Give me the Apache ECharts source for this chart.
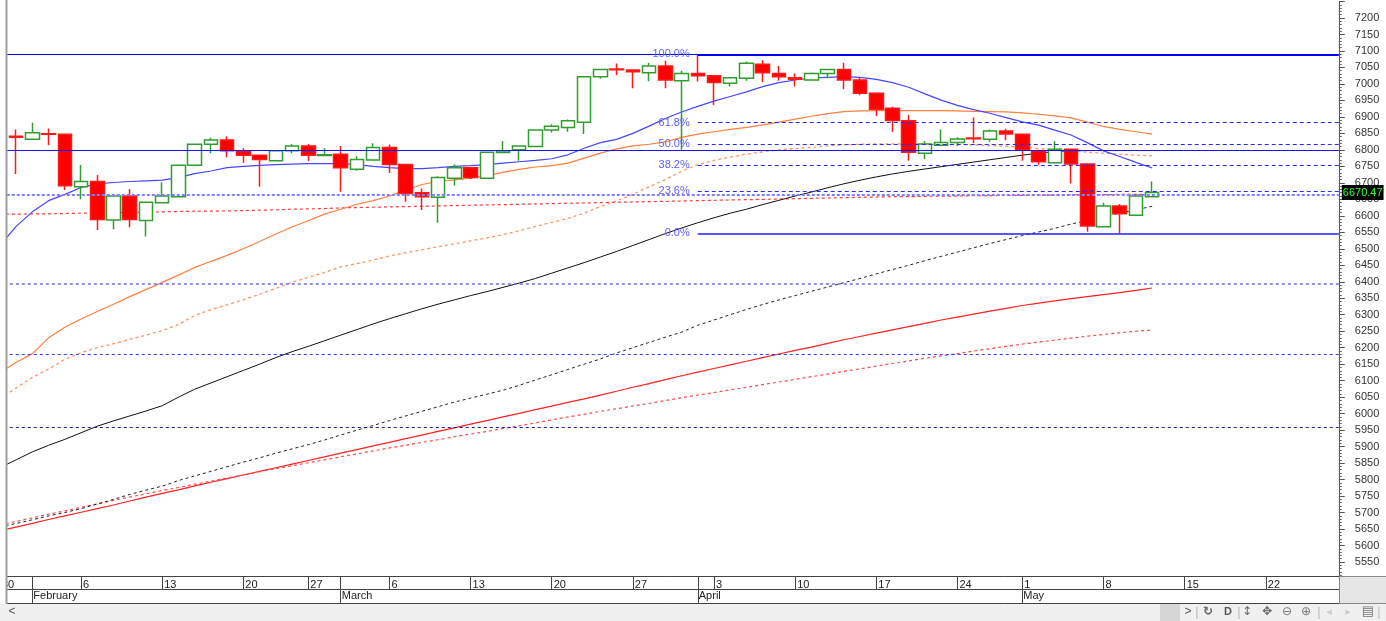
<!DOCTYPE html>
<html>
<head>
<meta charset="utf-8">
<title>Chart</title>
<script src="https://cdn.jsdelivr.net/npm/echarts@6/dist/echarts.min.js"></script>
<style>
  html, body { margin: 0; padding: 0; background: #fff; }
  #chart { width: 1386px; height: 621px; }
</style>
</head>
<body>
<div id="chart"></div>
<script>
var dates = ['01-30','01-31','02-01','02-02','02-03','02-06','02-07','02-08','02-09','02-10',
  '02-13','02-14','02-15','02-16','02-17','02-20','02-21','02-22','02-23','02-27','02-28',
  '03-01','03-02','03-03','03-06','03-07','03-08','03-09','03-10','03-13','03-14','03-15','03-16','03-17',
  '03-20','03-21','03-22','03-23','03-24','03-27','03-28','03-29','03-30','03-31',
  '04-03','04-04','04-05','04-06','04-07','04-10','04-11','04-12','04-13','04-14',
  '04-17','04-18','04-19','04-20','04-21','04-24','04-26','04-27','04-28',
  '05-01','05-02','05-03','05-04','05-05','05-08','05-09','05-10','05-11','05-12',
  '05-15','05-16','05-17','05-18','05-19','05-22','05-23','05-24','05-25','05-26'];

// week separators (day row) and month separators (month row)
var dayTicks = ['01-30','02-06','02-13','02-20','02-27','03-06','03-13','03-20','03-27',
  '04-03','04-10','04-17','04-24','05-01','05-08','05-15','05-22'];
var monthTicks = ['02-01','03-01','03-31','05-01'];
var monthNames = ['February','March','April','May'];

// [open, close, low, high], from 01-31
var candles = [
  [6841,6838,6727,6862],[6832,6852,6830,6882],[6849,6847,6814,6865],[6847,6691,6678,6850],
  [6688,6704,6650,6754],[6704,6589,6557,6724],[6587,6660,6559,6660],[6660,6589,6565,6681],
  [6586,6641,6537,6641],[6640,6660,6640,6702],[6658,6753,6658,6753],[6753,6817,6753,6817],
  [6817,6830,6790,6837],[6830,6797,6778,6841],[6795,6784,6761,6805],[6784,6771,6688,6784],
  [6767,6797,6765,6797],[6797,6812,6790,6818],[6812,6784,6766,6818],[6783,6785,6781,6805],
  [6787,6746,6673,6812],[6741,6771,6737,6781],[6769,6807,6769,6820],[6807,6756,6730,6816],
  [6756,6668,6643,6756],[6670,6658,6618,6683],[6656,6716,6579,6720],[6714,6746,6692,6756],
  [6746,6716,6712,6746],[6714,6793,6714,6795],[6792,6797,6790,6827],[6800,6812,6767,6814],
  [6810,6860,6808,6862],[6860,6872,6853,6878],[6868,6888,6855,6892],[6884,7022,6848,7024],
  [7022,7044,7016,7046],[7045,7043,7027,7062],[7042,7037,6987,7042],[7034,7054,7008,7064],
  [7054,7012,6987,7070],[7010,7032,6800,7040],[7032,7025,7007,7091],[7025,7004,6936,7025],
  [7002,7019,6992,7020],[7017,7063,7010,7068],[7060,7034,7006,7072],[7032,7022,7010,7054],
  [7019,7014,6992,7032],[7012,7032,7010,7035],[7032,7044,7017,7046],[7044,7012,6984,7064],
  [7012,6972,6966,7019],[6972,6923,6903,6975],[6926,6889,6855,6931],[6888,6793,6767,6906],
  [6790,6818,6772,6827],[6814,6822,6812,6862],[6822,6833,6812,6838],[6836,6834,6820,6898],
  [6832,6857,6825,6862],[6857,6848,6829,6864],[6847,6800,6767,6849],[6797,6764,6755,6800],
  [6761,6802,6761,6827],[6802,6757,6698,6802],[6757,6569,6552,6757],[6567,6630,6565,6640],
  [6630,6606,6547,6636],[6602,6660,6600,6665],[6658,6670.47,6658,6704]];

// moving averages, from 01-30
var maBlue = [6510,6568,6612,6646,6665,6686,6697,6701,6704,6706,
  6708,6716,6728,6736,6746,6750,6753,6755,6757,6758,
  6758,6758,6755,6750,6746,6743,6743,6746,6750,6752,
  6755,6760,6764,6768,6773,6785,6805,6822,6832,6850,
  6872,6895,6915,6932,6948,6962,6976,6992,7004,7012,
  7018,7020,7022,7020,7014,7004,6990,6970,6951,6935,
  6922,6911,6898,6885,6875,6860,6845,6822,6797,6780,
  6762,6745];
var maOrange = [6125,6155,6182,6230,6262,6287,6310,6332,6355,6376,
  6398,6420,6443,6462,6480,6500,6522,6545,6566,6585,
  6605,6620,6635,6646,6660,6678,6695,6704,6709,6714,
  6722,6732,6741,6748,6752,6760,6775,6790,6803,6812,
  6817,6824,6838,6848,6855,6862,6868,6876,6884,6893,
  6902,6910,6916,6918,6919,6919,6919,6919,6919,6918,
  6917,6916,6915,6912,6908,6903,6897,6884,6871,6862,
  6855,6848];
var maOrangeDot = [6045,6078,6110,6135,6165,6185,6200,6212,6225,6238,
  6252,6270,6298,6315,6330,6345,6362,6380,6398,6413,
  6428,6445,6455,6466,6478,6488,6497,6506,6515,6524,
  6533,6543,6555,6568,6580,6592,6608,6628,6645,6665,
  6688,6710,6735,6755,6768,6778,6787,6794,6800,6804,
  6808,6812,6815,6817,6818,6818,6818,6818,6817,6816,
  6815,6813,6811,6808,6804,6800,6797,6793,6790,6787,
  6784,6782];
var maBlack = [5836,5860,5884,5904,5922,5942,5962,5978,5993,6008,
  6024,6050,6074,6093,6112,6131,6150,6170,6188,6204,
  6221,6238,6255,6272,6288,6303,6318,6332,6345,6358,
  6370,6383,6396,6410,6426,6442,6458,6475,6492,6510,
  6528,6546,6563,6579,6594,6608,6620,6634,6647,6660,
  6672,6685,6697,6708,6718,6727,6735,6742,6749,6756,
  6763,6770,6777,6784,6790,6795,6797,6798,6798,6798,
  6798,6798];
var maBlackDot = [5656,5667,5678,5690,5700,5712,5726,5740,5755,5768,
  5780,5797,5811,5825,5839,5853,5866,5880,5893,5906,
  5920,5935,5950,5964,5979,5993,6007,6021,6035,6047,
  6059,6071,6086,6102,6118,6134,6150,6166,6184,6200,
  6216,6232,6247,6268,6284,6300,6316,6331,6345,6358,
  6371,6384,6397,6410,6424,6437,6450,6464,6477,6490,
  6503,6516,6528,6540,6551,6562,6575,6586,6598,6608,
  6618,6629];
var maRed = [5645,5656,5667,5679,5690,5701,5712,5723,5735,5747,
  5758,5769,5781,5792,5803,5814,5825,5836,5847,5858,
  5869,5880,5891,5902,5913,5924,5935,5946,5957,5968,
  5979,5990,6001,6012,6023,6034,6045,6056,6068,6080,
  6091,6103,6115,6126,6137,6148,6159,6170,6181,6192,
  6202,6213,6224,6234,6244,6254,6264,6274,6284,6293,
  6302,6311,6319,6328,6335,6342,6349,6355,6361,6367,
  6374,6381];
var maRedDot = [5663,5673,5684,5695,5705,5716,5726,5737,5747,5757,
  5767,5776,5786,5795,5805,5814,5824,5833,5842,5851,
  5860,5869,5878,5887,5896,5904,5913,5921,5930,5938,
  5946,5955,5963,5972,5981,5990,5998,6007,6015,6023,
  6031,6040,6048,6056,6064,6072,6080,6088,6096,6104,
  6112,6120,6128,6136,6144,6152,6160,6168,6175,6182,
  6190,6197,6204,6211,6217,6223,6229,6235,6240,6245,
  6250,6254];
var maRedFlat = [6605,6605,6606,6606,6607,6608,6608,6609,6610,6611,
  6612,6613,6614,6614,6615,6616,6617,6618,6620,6621,
  6622,6624,6625,6626,6627,6628,6629,6630,6631,6632,
  6633,6634,6635,6636,6637,6638,6639,6640,6641,6642,
  6643,6644,6645,6646,6647,6648,6649,6650,6651,6652,
  6653,6654,6655,6656,6657,6658,6658,6659,6660,6660,
  6661,6661,6662,6662,6663,6663,6664,6664,6664,6665,
  6665,6665];

// horizontal levels drawn across the whole chart
var hLevels = [7090, 6800, 6663, 6395, 6180, 5960];
var lastClose = 6670.47;

// fibonacci retracement
var fibHigh = 7090;
var fibLow = 6547;
var fibStart = '03-31';
var fibRatios = [1, 0.618, 0.5, 0.382, 0.236, 0];
var fibLabels = ['100.0%', '61.8%', '50.0%', '38.2%', '23.6%', '0.0%'];

var FONT = 'Liberation Sans, Arial, sans-serif';

var chart = echarts.init(document.getElementById('chart'));

var hStyles = [
  {color: '#0000ee', width: 1, type: 'solid'},
  {color: '#1414ff', width: 1, type: 'solid'},
  {color: '#8080ff', width: 2, type: [3, 2]},
  {color: '#6a6aff', width: 1.5, type: [3, 3]},
  {color: '#3c3cff', width: 1, type: [3, 3]},
  {color: '#20209a', width: 1, type: [3, 3]}
];
var hLineData = hLevels.map(function(v, i) {
  return {yAxis: v, lineStyle: hStyles[i]};
});
hLineData.push({
  yAxis: lastClose,
  lineStyle: {color: 'rgba(0,0,0,0)', width: 1},
  label: {
    show: true,
    position: 'end',
    distance: 3,
    formatter: lastClose.toFixed(2),
    color: '#33ff33',
    backgroundColor: '#000',
    padding: [2, 1, 2, 1],
    fontSize: 11,
    fontFamily: FONT
  }
});

var fibFrom = dates.indexOf(fibStart);
var fibTo = dates.length - 0.5;
var fibData = fibRatios.map(function(r, i) {
  var v = fibLow + r * (fibHigh - fibLow);
  var style;
  if (r === 1) style = {color: '#0000ff', width: 2, type: 'solid'};
  else if (r === 0) style = {color: '#1f1fff', width: 1.5, type: 'solid'};
  else style = {color: '#2a2aff', width: 1, type: [4, 3]};
  return [{coord: [fibFrom, v], lineStyle: style, label: {formatter: fibLabels[i]}}, {coord: [fibTo, v]}];
});

function maLine(data, color, type, width) {
  return {
    type: 'line',
    xAxisIndex: 0,
    yAxisIndex: 0,
    data: data,
    symbol: 'none',
    silent: true,
    z: 2,
    lineStyle: {color: color, type: type, width: width || 1}
  };
}

function isTick(list) {
  return function(idx, val) { return list.indexOf(val) >= 0; };
}

var option = {
  animation: false,
  backgroundColor: '#fff',
  grid: [
    {left: -8.2, top: 1.5, width: 1347, height: 577, outerBoundsMode: 'none', containLabel: false},
    {left: -8.2, top: 576, width: 1347, height: 27, outerBoundsMode: 'none', containLabel: false}
  ],
  xAxis: [
    {type: 'category', gridIndex: 0, data: dates, boundaryGap: true, show: false},
    {type: 'value', gridIndex: 0, min: -0.5, max: dates.length - 0.5, show: false},
    {
      type: 'category', gridIndex: 1, data: dates, position: 'top', boundaryGap: true,
      axisLine: {onZero: false, lineStyle: {color: '#444'}},
      axisTick: {show: true, inside: true, length: 14, alignWithLabel: true,
        interval: isTick(dayTicks.concat(monthTicks)), lineStyle: {color: '#444'}},
      axisLabel: {inside: true, margin: 3, align: 'left', padding: [0, 0, 0, 2],
        interval: isTick(dayTicks), color: '#222', fontSize: 11, fontFamily: FONT,
        formatter: function(val) { return String(parseInt(val.slice(3), 10)); }}
    },
    {
      type: 'category', gridIndex: 1, data: dates, position: 'bottom', boundaryGap: true,
      axisLine: {onZero: false, lineStyle: {color: '#444'}},
      axisTick: {show: true, inside: true, length: 13, alignWithLabel: true,
        interval: isTick(monthTicks), lineStyle: {color: '#444'}},
      axisLabel: {inside: true, margin: 2, align: 'left', padding: [0, 0, 0, 1],
        interval: isTick(monthTicks), color: '#222', fontSize: 11, fontFamily: FONT,
        formatter: function(val) { return monthNames[monthTicks.indexOf(val)]; }}
    }
  ],
  yAxis: [
    {
      type: 'value', gridIndex: 0, position: 'right', min: 5500, max: 7250, interval: 50,
      axisLine: {show: true, onZero: false, lineStyle: {color: '#555'}},
      axisTick: {show: true, length: 6, lineStyle: {color: '#555'}},
      minorTick: {show: true, splitNumber: 5, length: 3, lineStyle: {color: '#666'}},
      axisLabel: {margin: 16, color: '#333', fontSize: 11, fontFamily: FONT,
        showMinLabel: false, showMaxLabel: false,
        formatter: function(v) { return String(v); }},
      splitLine: {show: false}
    },
    {
      type: 'value', gridIndex: 1, position: 'right', min: 0, max: 1,
      axisLine: {show: true, onZero: false, lineStyle: {color: '#555'}},
      axisTick: {show: false}, axisLabel: {show: false}, splitLine: {show: false}
    }
  ],
  series: [
    maLine(maRedFlat, '#ff3b3b', [3, 3], 1.2),
    maLine(maRed, '#ff2020', 'solid', 1.2),
    maLine(maRedDot, '#ff4a4a', [3, 3], 1.2),
    maLine(maBlackDot, '#222', [3, 3], 1),
    maLine(maBlack, '#111', 'solid', 1),
    maLine(maOrangeDot, '#ff9460', [3, 3], 1.3),
    maLine(maOrange, '#ff7f3f', 'solid', 1.2),
    maLine(maBlue, '#4646ff', 'solid', 1.2),
    {
      type: 'line',
      xAxisIndex: 1,
      yAxisIndex: 0,
      data: [],
      silent: true,
      markLine: {
        silent: true,
        symbol: 'none',
        animation: false,
        label: {show: true, position: 'start', distance: 8, color: '#6060ff',
          fontSize: 11, fontFamily: FONT},
        data: fibData
      }
    },
    {
      type: 'candlestick',
      xAxisIndex: 0,
      yAxisIndex: 0,
      data: ['-'].concat(candles),
      barWidth: 14,
      z: 3,
      itemStyle: {
        color: '#ffffff',
        color0: '#ff0000',
        borderColor: '#2f9e2f',
        borderColor0: '#ff1a1a',
        borderWidth: 1.5
      },
      markLine: {
        silent: true,
        symbol: 'none',
        animation: false,
        label: {show: false},
        data: hLineData
      }
    }
  ],
  graphic: [
    {type: 'rect', z: 100, shape: {x: 0, y: 0, width: 6, height: 604}, style: {fill: '#fff'}},
    {type: 'line', z: 101, shape: {x1: 6.5, y1: 0, x2: 6.5, y2: 604}, style: {stroke: '#a0a0a0', lineWidth: 2}},
    {type: 'line', z: 100, shape: {x1: 7, y1: 589.5, x2: 1339, y2: 589.5}, style: {stroke: '#444', lineWidth: 1}},
    {type: 'rect', z: 100, shape: {x: 1339.5, y: 576.5, width: 47, height: 27}, style: {fill: '#e6e6e6', stroke: '#888'}},
    {type: 'rect', z: 100, shape: {x: 0, y: 604, width: 1386, height: 17}, style: {fill: '#f0f0f0'}},
    {type: 'rect', z: 101, shape: {x: 1160, y: 604, width: 20, height: 17}, style: {fill: '#d6d6d6'}},
    {type: 'text', z: 102, x: 12, y: 612, style: {text: '<', fill: '#555', font: '12px ' + FONT, textAlign: 'center', textVerticalAlign: 'middle'}},
    {type: 'text', z: 102, x: 1188, y: 612, style: {text: '>', fill: '#555', font: '12px ' + FONT, textAlign: 'center', textVerticalAlign: 'middle'}},
    {type: 'text', z: 102, x: 1197, y: 612, style: {text: '|', fill: '#bbb', font: '13px ' + FONT, textAlign: 'center', textVerticalAlign: 'middle'}},
    {type: 'text', z: 102, x: 1208, y: 612, style: {text: '\u21bb', fill: '#666', font: 'bold 12px DejaVu Sans', textAlign: 'center', textVerticalAlign: 'middle'}},
    {type: 'text', z: 102, x: 1228, y: 612, style: {text: 'D', fill: '#555', font: 'bold 11px ' + FONT, textAlign: 'center', textVerticalAlign: 'middle'}},
    {type: 'text', z: 102, x: 1239, y: 612, style: {text: '|', fill: '#bbb', font: '13px ' + FONT, textAlign: 'center', textVerticalAlign: 'middle'}},
    {type: 'text', z: 102, x: 1247, y: 612, style: {text: '\u2195', fill: '#666', font: '12px DejaVu Sans', textAlign: 'center', textVerticalAlign: 'middle'}},
    {type: 'text', z: 102, x: 1267, y: 612, style: {text: '\u2725', fill: '#666', font: '12px DejaVu Sans', textAlign: 'center', textVerticalAlign: 'middle'}},
    {type: 'text', z: 102, x: 1287, y: 612, style: {text: '\u2296', fill: '#777', font: '12px DejaVu Sans', textAlign: 'center', textVerticalAlign: 'middle'}},
    {type: 'text', z: 102, x: 1306, y: 612, style: {text: '\u2295', fill: '#777', font: '12px DejaVu Sans', textAlign: 'center', textVerticalAlign: 'middle'}},
    {type: 'text', z: 102, x: 1319, y: 612, style: {text: '|', fill: '#bbb', font: '13px ' + FONT, textAlign: 'center', textVerticalAlign: 'middle'}},
    {type: 'text', z: 102, x: 1329, y: 612, style: {text: '\u25c2', fill: '#ccc', font: '11px DejaVu Sans', textAlign: 'center', textVerticalAlign: 'middle'}},
    {type: 'text', z: 102, x: 1348, y: 612, style: {text: '\u25b8', fill: '#ccc', font: '11px DejaVu Sans', textAlign: 'center', textVerticalAlign: 'middle'}},
    {type: 'text', z: 102, x: 1368, y: 612, style: {text: '\u25a4', fill: '#777', font: '13px DejaVu Sans', textAlign: 'center', textVerticalAlign: 'middle'}},
    {type: 'text', z: 102, x: 1379, y: 612, style: {text: '|', fill: '#bbb', font: '13px ' + FONT, textAlign: 'center', textVerticalAlign: 'middle'}}
  ]
};

chart.setOption(option);
</script>
</body>
</html>
